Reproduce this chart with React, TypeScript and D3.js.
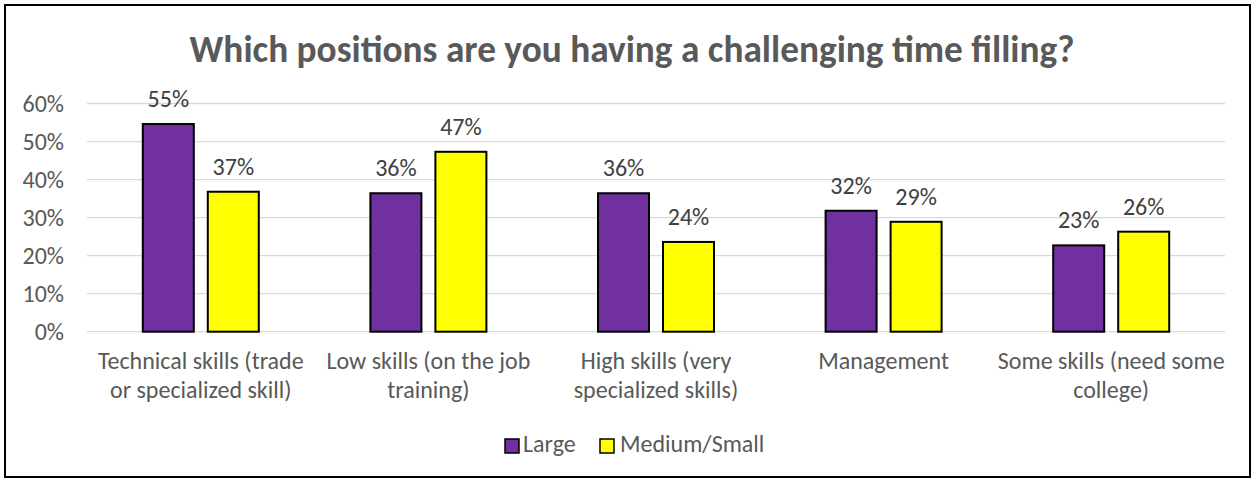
import React from "react";
import * as d3 from "d3";

const categories = [
  ["Technical skills (trade", "or specialized skill)"],
  ["Low skills (on the job", "training)"],
  ["High skills (very", "specialized skills)"],
  ["Management"],
  ["Some skills (need some", "college)"],
];
const seriesNames = ["Large", "Medium/Small"];
const large = [0.546, 0.364, 0.364, 0.318, 0.227];
const mediumSmall = [0.368, 0.473, 0.236, 0.289, 0.263];
const yTicks = [0, 0.1, 0.2, 0.3, 0.4, 0.5, 0.6];
const colors = ["#7030A0", "#FFFF00"];

const W = 1255;
const H = 481;
const plotLeft = 87;
const plotRight = 1225;
const plotTop = 103.5;
const plotBottom = 331.7;
const font = "Calibri, Carlito, 'Open Sans', 'Noto Sans', sans-serif";
const textColor = "#595959";
const fs = 24;

export default function App() {
  const x = d3
    .scaleBand<number>()
    .domain(categories.map((_, i) => i))
    .range([plotLeft, plotRight])
    .paddingInner(0)
    .paddingOuter(0);
  const y = d3.scaleLinear().domain([0, 0.6]).range([plotBottom, plotTop]);
  const barW = 51;
  const gap = 14;
  const series = [large, mediumSmall];
  const pct = d3.format(".0%");

  return (
    <svg
      width={W}
      height={H}
      style={{ position: "absolute", left: 0, top: 0, fontFamily: font }}
    >
      <rect x={0} y={0} width={W} height={H} fill="#fff" />
      <rect x={5} y={5} width={1245} height={472} fill="#fff" stroke="#000" strokeWidth={2} />
      <text
        x={632}
        y={62}
        textAnchor="middle"
        fontSize={37.3}
        fontWeight="bold"
        fill={textColor}
      >
        Which positions are you having a challenging time filling?
      </text>
      {yTicks.map((t) => (
        <g key={t}>
          <line
            x1={plotLeft}
            x2={plotRight}
            y1={y(t)}
            y2={y(t)}
            stroke="#d9d9d9"
            strokeWidth={1.3}
          />
          <text
            x={64}
            y={y(t) + 8}
            textAnchor="end"
            fontSize={fs}
            fill={textColor}
          >
            {pct(t)}
          </text>
        </g>
      ))}
      {series.map((vals, s) =>
        vals.map((v, i) => {
          const cx = x(i)! + x.bandwidth() / 2;
          const bx = s === 0 ? cx - gap / 2 - barW : cx + gap / 2;
          return (
            <g key={`${s}-${i}`}>
              <rect
                x={bx}
                y={y(v)}
                width={barW}
                height={plotBottom - y(v)}
                fill={colors[s]}
                stroke="#000"
                strokeWidth={2}
              />
              <text
                x={bx + barW / 2}
                y={y(v) - 17}
                textAnchor="middle"
                fontSize={fs}
                fill="#404040"
              >
                {pct(v)}
              </text>
            </g>
          );
        })
      )}
      {categories.map((lines, i) => (
        <text
          key={i}
          x={x(i)! + x.bandwidth() / 2}
          y={369}
          textAnchor="middle"
          fontSize={fs}
          fill={textColor}
        >
          {lines.map((l, j) => (
            <tspan key={j} x={x(i)! + x.bandwidth() / 2} dy={j === 0 ? 0 : 29}>
              {l}
            </tspan>
          ))}
        </text>
      ))}
      <g>
        <rect x={505} y={439} width={14} height={14} fill={colors[0]} stroke="#000" strokeWidth={1.5} />
        <text x={523} y={452} fontSize={fs} fill={textColor}>
          {seriesNames[0]}
        </text>
        <rect x={600} y={439} width={14} height={14} fill={colors[1]} stroke="#000" strokeWidth={1.5} />
        <text x={620} y={452} fontSize={fs} fill={textColor}>
          {seriesNames[1]}
        </text>
      </g>
    </svg>
  );
}
